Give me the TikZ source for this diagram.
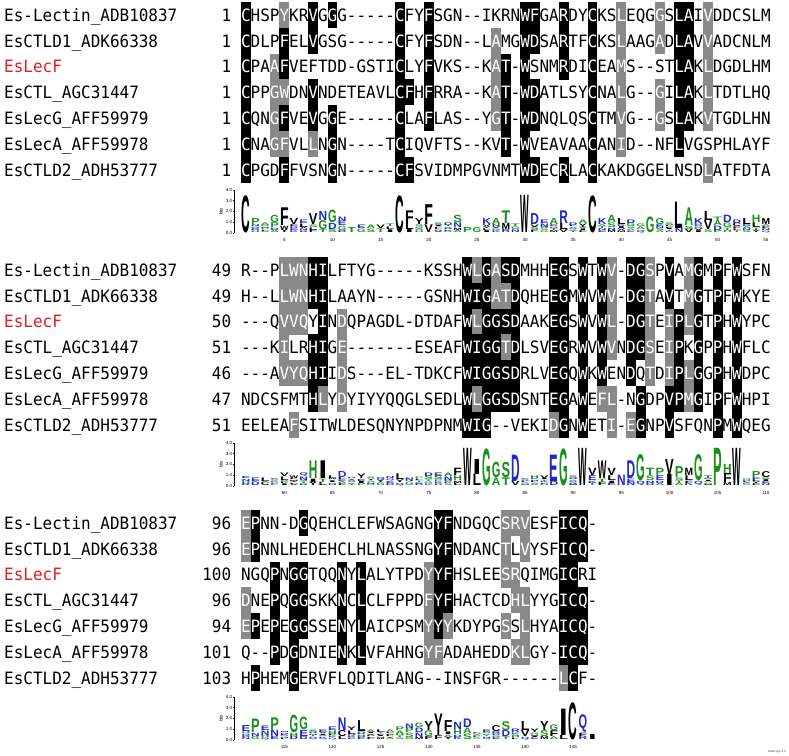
\documentclass[tikz,border=0pt]{standalone}
\usepackage{fontspec}
\usepackage{graphicx}
\newfontfamily\seqfont{DejaVu Sans Mono}[FakeStretch=0.94]
\newfontfamily\logofont{Liberation Sans}
\newfontfamily\axfont{Liberation Sans}
\definecolor{shgray}{RGB}{137,137,137}
\definecolor{namered}{RGB}{226,30,36}
\definecolor{lgblue}{RGB}{30,40,205}
\definecolor{lggreen}{RGB}{25,145,25}
\tikzset{
  restxt/.style={font={\seqfont\fontsize{17pt}{17pt}\selectfont}, inner sep=0pt, anchor=base},
  nametxt/.style={font={\seqfont\fontsize{17pt}{17pt}\selectfont}, inner sep=0pt},
  axtxt/.style={font={\axfont\fontsize{4.5pt}{5pt}\selectfont}, inner sep=0pt},
  axline/.style={line width=0.4pt, black}
}
\makeatletter
\def\LC@R{lgblue}\def\LC@K{lgblue}\def\LC@D{lgblue}\def\LC@E{lgblue}\def\LC@N{lgblue}\def\LC@Q{lgblue}
\def\LC@S{lggreen}\def\LC@G{lggreen}\def\LC@H{lggreen}\def\LC@T{lggreen}\def\LC@A{lggreen}\def\LC@P{lggreen}
\def\LC@Y{black}\def\LC@V{black}\def\LC@M{black}\def\LC@C{black}\def\LC@L{black}\def\LC@F{black}\def\LC@I{black}\def\LC@W{black}
\newcount\al@cc
\newcount\lg@n
\newcount\lg@j
\newcommand\alrow[7]{%
  \ifcase#1 \def\al@by{15}\or\def\al@by{270}\or\def\al@by{523}\fi
  \pgfmathsetmacro\al@y{\al@by+25.8*#2}%
  \pgfmathsetmacro\al@yb{\al@y+6.2}%
  \foreach \al@k in {0,...,56}{\expandafter\gdef\csname S@\al@k\endcsname{n}}%
  \foreach \al@k in {#6}{\expandafter\gdef\csname S@\al@k\endcsname{b}}%
  \foreach \al@k in {#7}{\expandafter\gdef\csname S@\al@k\endcsname{g}}%
  \node[nametxt,anchor=base west] (nm#1#2) at (4,\al@yb) {#3};
  \node[nametxt,anchor=base east] (nb#1#2) at (231.4,\al@yb) {#4};
  \global\al@cc=0
  \def\al@blk{#1}\def\al@row{#2}%
  \al@loop#5\relax}
\def\al@loop#1#2\relax{%
  \al@char{#1}%
  \global\advance\al@cc by 1\relax
  \ifx\relax#2\relax\else\al@loop#2\relax\fi}
\def\al@char#1{%
  \pgfmathsetmacro\al@x{241+(\the\al@cc+0.5)*9.63}%
  \edef\al@s{\csname S@\the\al@cc\endcsname}%
  \if b\al@s
    \fill[black] (\al@x-4.9,\al@y-12.95) rectangle (\al@x+4.9,\al@y+12.95);
    \node[restxt,text=white] at (\al@x,\al@yb) {#1};
  \else
    \if g\al@s
      \fill[shgray] (\al@x-4.9,\al@y-12.95) rectangle (\al@x+4.9,\al@y+12.95);
      \node[restxt,text=white] at (\al@x,\al@yb) {#1};
    \else
      \node[restxt] at (\al@x,\al@yb) {#1};
    \fi
  \fi
  \expandafter\xdef\csname R@\al@blk @\al@row @\the\al@cc\endcsname{#1}}
\newcommand\drawlogo[2]{%
  \ifcase#1 \def\lg@base{233}\or\def\lg@base{486}\or\def\lg@base{740}\fi
  \global\lg@j=0
  \loop
    \lg@column{#1}%
    \global\advance\lg@j by 1
  \ifnum\lg@j<#2 \repeat}
\def\lg@column#1{%
  \gdef\lg@letters{}%
  \global\lg@n=0
  \lg@countone{#1}{0}\lg@countone{#1}{1}\lg@countone{#1}{2}\lg@countone{#1}{3}%
  \lg@countone{#1}{4}\lg@countone{#1}{5}\lg@countone{#1}{6}%
  \ifnum\lg@n>0
    \gdef\lg@H{0}%
    \expandafter\lg@map\expandafter{\lg@letters}\lg@addH
    \pgfmathsetmacro\lg@info{max(0,4.3219-\lg@H-0.85)*\the\lg@n/7}%
    \pgfmathsetmacro\lg@x{241+(\the\lg@j+0.5)*9.63}%
    \gdef\lg@off{0.2}%
    \foreach \lg@lev in {1,...,7}{\expandafter\lg@map\expandafter{\lg@letters}\lg@drawif}%
    \expandafter\lg@map\expandafter{\lg@letters}\lg@reset
  \fi}
\def\lg@map#1#2{\lg@mapi#2#1\relax}
\def\lg@mapi#1#2{\ifx\relax#2\else#1{#2}\expandafter\lg@mapi\expandafter#1\fi}
\def\lg@countone#1#2{%
  \edef\lg@c{\csname R@#1@#2@\the\lg@j\endcsname}%
  \if-\lg@c\else
    \global\advance\lg@n by 1\relax
    \expandafter\ifx\csname C@\lg@c\endcsname\relax
      \expandafter\xdef\csname C@\lg@c\endcsname{1}%
      \xdef\lg@letters{\lg@letters\lg@c}%
    \else
      \expandafter\xdef\csname C@\lg@c\endcsname{\the\numexpr\csname C@\lg@c\endcsname+1\relax}%
    \fi
  \fi}
\def\lg@addH#1{%
  \pgfmathsetmacro\lg@p{\csname C@#1\endcsname/\the\lg@n}%
  \pgfmathsetmacro\lg@t{\lg@H-\lg@p*ln(\lg@p)/ln(2)}%
  \global\let\lg@H\lg@t}
\def\lg@drawif#1{%
  \ifnum\csname C@#1\endcsname=\lg@lev\relax
    \pgfmathsetmacro\lg@h{\lg@info*\csname C@#1\endcsname/\the\lg@n*10.8}%
    \pgfmathsetmacro\lg@hh{\lg@h-0.3}%
    \edef\lg@colr{\csname LC@#1\endcsname}%
    \ifdim\lg@hh pt>0.3pt
      \node[inner sep=0pt,outer sep=0pt,anchor=south,text=\lg@colr] at (\lg@x,\lg@base-\lg@off) {\resizebox*{8.6pt}{\lg@hh pt}{\logofont\bfseries #1}};
    \fi
    \pgfmathsetmacro\lg@t{\lg@off+\lg@h}%
    \global\let\lg@off\lg@t
  \fi}
\def\lg@reset#1{\global\expandafter\let\csname C@#1\endcsname\relax}
\newcommand\logoaxes[3]{%
  \ifcase#1 \def\lg@base{233}\or\def\lg@base{486}\or\def\lg@base{740}\fi
  \draw[axline] (234,\lg@base) -- (234,\lg@base-43.2);
  \foreach \al@t in {0,1,2,3,4}{%
    \draw[axline] (232.6,\lg@base-10.8*\al@t) -- (234,\lg@base-10.8*\al@t);
    \node[axtxt,anchor=east] at (232.3,\lg@base-10.8*\al@t) {\al@t.0};
  }%
  \node[axtxt,rotate=90] at (221,\lg@base-21.6) {bits};
  \foreach \al@m in {5,10,...,55}{%
    \ifnum\al@m>#3\relax\else
      \pgfmathtruncatemacro\al@lab{#2+\al@m}%
      \node[axtxt] at ({241+(\al@m-0.5)*9.63},\lg@base+6.5) {\al@lab};
    \fi
  }}
\makeatother
\begin{document}
\begin{tikzpicture}[x=1pt,y=-1pt]
\fill[white] (0,0) rectangle (789,755);
\useasboundingbox (0,0) rectangle (789,755);
% ---------- block 1 ----------
\alrow{0}{0}{Es-Lectin\_ADB10837}{1}{CHSPYKRVGGG-----CFYFSGN--IKRNWFGARDYCKSLEQGGSLAIVDDCSLM}{0,7,9,16,19,29,30,33,36,45,46}{4,39,43,48}
\alrow{0}{1}{EsCTLD1\_ADK66338}{1}{CDLPFELVGSG-----CFYFSDN--LAMGWDSARTFCKSLAAGADLAVVADCNLM}{0,4,7,16,19,29,30,33,36,45,46}{26,39,43,48}
\alrow{0}{2}{\textcolor{namered}{EsLecF}}{1}{CPAAFVEFTDD-GSTICLYFVKS--KAT-WSNMRDICEAMS--STLAKLDGDLHM}{0,4,16,19,27,29,33,36,45,46}{3,26,39,48}
\alrow{0}{3}{EsCTL\_AGC31447}{1}{CPPGWDNVNDETEAVLCFHFRRA--KAT-WDATLSYCNALG--GILAKLTDTLHQ}{0,7,16,17,19,27,29,30,36,45,46}{3,4,26,39,43,48}
\alrow{0}{4}{EsLecG\_AFF59979}{1}{CQNGFVEVGGE-----CLAFLAS--YGT-WDNQLQSCTMVG--GSLAKVTGDLHN}{0,4,7,9,16,19,27,29,30,36,45,46}{3,26,39,43,48}
\alrow{0}{5}{EsLecA\_AFF59978}{1}{CNAGFVLLNGN----TCIQVFTS--KVT-WVEAVAACANID--NFLVGSPHLAYF}{0,9,16,27,29,36,45}{3,4,7,39}
\alrow{0}{6}{EsCTLD2\_ADH53777}{1}{CPGDFFVSNGN-----CFSVIDMPGVNMTWDECRLACKAKDGGELNSDLATFDTA}{0,4,9,16,17,29,30,33,36}{48}
% ---------- block 2 ----------
\alrow{1}{0}{Es-Lectin\_ADB10837}{49}{R--PLWNHILFTYG-----KSSHWLGASDMHHEGSWTWV-DGSPVAMGMPFWSFN}{7,8,23,25,27,28,32,33,35,37,40,41,44,47,49,51}{4,5,6,24,26,38,42,46}
\alrow{1}{1}{EsCTLD1\_ADK66338}{49}{H--LLWNHILAAYN-----GSNHWIGATDQHEEGMWVWV-DGTAVTMGTPFWKYE}{7,8,23,24,25,28,32,33,35,37,40,41,44,47,49,51}{4,5,6,26,27,38,42,46}
\alrow{1}{2}{\textcolor{namered}{EsLecF}}{50}{---QVVQYINDQPAGDL-DTDAFWLGGSDAAKEGSWVWL-DGTEIPLGTPHWYPC}{8,23,25,26,27,28,32,33,35,37,40,41,45,47,49,51}{4,5,6,10,24,38,42,44,46}
\alrow{1}{3}{EsCTL\_AGC31447}{51}{---KILRHIGE-------ESEAFWIGGTDLSVEGRWVWVNDGSEIPKGPPHWFLC}{7,8,23,24,25,26,28,32,33,35,37,40,41,45,47,49,51}{4,10,27,38,42,44}
\alrow{1}{4}{EsLecG\_AFF59979}{46}{---AVYQHIIDS---EL-TDKCFWIGGSDRLVEGQWKWENDQTDIPLGGPHWDPC}{7,8,23,24,25,26,27,28,32,33,35,37,40,45,47,49,51}{4,5,6,10,42,44,46}
\alrow{1}{5}{EsLecA\_AFF59978}{47}{NDCSFMTHLYDYIYYQQGLSEDLWLGGSDSNTEGAWEFL-NGDPVPMGIPFWHPI}{7,23,25,26,27,28,32,33,35,41,44,45,47,49,51}{8,10,24,37,38,46}
\alrow{1}{6}{EsCTLD2\_ADH53777}{51}{EELEAFSITWLDESQNYNPDPNMWIG--VEKIDGNWETI-EGNPVSFQNPMWQEG}{23,24,25,33,35,41,44,49,51}{5,32,38,40}
% ---------- block 3 ----------
\alrow{2}{0}{Es-Lectin\_ADB10837}{96}{EPNN-DGQEHCLEFWSAGNGYFNDGQCSRVESFICQ-}{1,6,20,21,33,34,35}{0,27,28,29}
\alrow{2}{1}{EsCTLD1\_ADK66338}{96}{EPNNLHEDEHCLHLNASSNGYFNDANCTLVYSFICQ-}{1,20,21,33,34,35}{0,27,29}
\alrow{2}{2}{\textcolor{namered}{EsLecF}}{100}{NGQPNGGTQQNYLALYTPDYYFHSLEESRQIMGICRI}{3,5,6,10,12,20,21,33,34}{19,27,28}
\alrow{2}{3}{EsCTL\_AGC31447}{96}{DNEPQGGSKKNCLCLFPPDFYFHACTCDHLYYGICQ-}{3,5,6,10,12,20,21,33,34,35}{0,19,28,29}
\alrow{2}{4}{EsLecG\_AFF59979}{94}{EPEPEGGSSENYLAICPSMYYYKDYPGSSLHYAICQ-}{1,3,5,6,10,12,20,33,34,35}{0,19,21,27,29}
\alrow{2}{5}{EsLecA\_AFF59978}{101}{Q--PDGDNIENKLVFAHNGYFADAHEDDKLGY-ICQ-}{3,5,10,12,33,34,35}{19,20,28,29}
\alrow{2}{6}{EsCTLD2\_ADH53777}{103}{HPHEMGERVFLQDITLANG--INSFGR------LCF-}{1,5,34}{33}
% ---------- logos ----------
\drawlogo{0}{55}
\drawlogo{1}{55}
\drawlogo{2}{37}
\logoaxes{0}{0}{55}
\logoaxes{1}{55}{55}
\logoaxes{2}{110}{37}
\node[inner sep=0pt,font={\axfont\fontsize{3pt}{3pt}\selectfont},text=black!70,anchor=south east] (wl) at (786,753) {WebLogo 3.0};
\end{tikzpicture}
\end{document}
